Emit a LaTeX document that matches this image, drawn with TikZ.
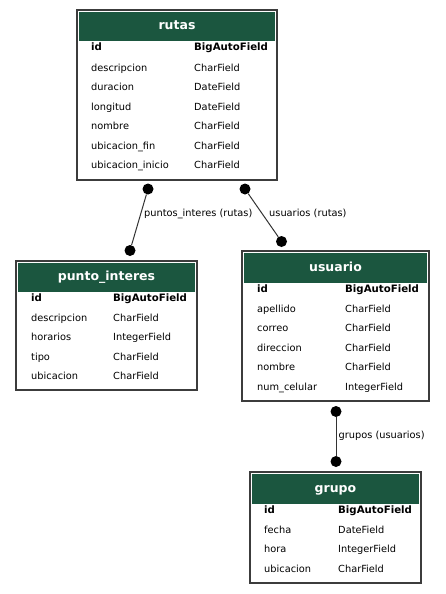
\documentclass[tikz,border=0pt]{standalone}
\usepackage{fontspec}
\setmainfont{DejaVu Sans}
\usetikzlibrary{positioning}

\definecolor{hdrgreen}{HTML}{1B563F}
\definecolor{boxgray}{HTML}{3C3C3C}

\tikzset{
  tbl/.style={draw=boxgray, line width=1.2pt, fill=white},
  hdr/.style={fill=hdrgreen, draw=none},
  ttl/.style={text=white, font=\fontsize{12.5}{14}\selectfont\bfseries, anchor=center, inner sep=0pt, text height=9pt, text depth=2.5pt},
  fname/.style={anchor=west, font=\fontsize{9.8}{11}\selectfont, inner sep=0pt, text height=7.2pt, text depth=2.2pt},
  ftype/.style={fname},
  fkey/.style={anchor=west, font=\fontsize{10.2}{11}\selectfont\bfseries, inner sep=0pt, text height=7.2pt, text depth=2.2pt},
  dot/.style={circle, fill=black, inner sep=0pt, minimum size=11pt},
  rel/.style={draw=black!80, line width=1pt},
  rlabel/.style={fname}
}

\begin{document}
\begin{tikzpicture}[x=1pt, y=-1pt]
\useasboundingbox (0,0) rectangle (445,594);

% rutas
\draw[tbl] (77,10) rectangle (277,180);
\fill[hdr] (79,12) rectangle (275,41);
\node[ttl] (rutas) at (177,26.5) {rutas};
\node[fkey] (rutas-id) at (91,48) {id};
\node[fkey] (rutas-id-t) at (194,48) {BigAutoField};
\node[fname] (rutas-descripcion) at (91,68.5) {descripcion};
\node[ftype] (rutas-descripcion-t) at (194,68.5) {CharField};
\node[fname] (rutas-duracion) at (91,88) {duracion};
\node[ftype] (rutas-duracion-t) at (194,88) {DateField};
\node[fname] (rutas-longitud) at (91,107.5) {longitud};
\node[ftype] (rutas-longitud-t) at (194,107.5) {DateField};
\node[fname] (rutas-nombre) at (91,127) {nombre};
\node[ftype] (rutas-nombre-t) at (194,127) {CharField};
\node[fname] (rutas-fin) at (91,146.5) {ubicacion\_fin};
\node[ftype] (rutas-fin-t) at (194,146.5) {CharField};
\node[fname] (rutas-inicio) at (91,166) {ubicacion\_inicio};
\node[ftype] (rutas-inicio-t) at (194,166) {CharField};

% punto_interes
\draw[tbl] (16,261) rectangle (197,390);
\fill[hdr] (18,263) rectangle (195,292);
\node[ttl] (pinteres) at (106.5,277.5) {punto\_interes};
\node[fkey] (pinteres-id) at (31,299) {id};
\node[fkey] (pinteres-id-t) at (113,299) {BigAutoField};
\node[fname] (pinteres-descripcion) at (31,318.5) {descripcion};
\node[ftype] (pinteres-descripcion-t) at (113,318.5) {CharField};
\node[fname] (pinteres-horarios) at (31,338) {horarios};
\node[ftype] (pinteres-horarios-t) at (113,338) {IntegerField};
\node[fname] (pinteres-tipo) at (31,357.5) {tipo};
\node[ftype] (pinteres-tipo-t) at (113,357.5) {CharField};
\node[fname] (pinteres-ubicacion) at (31,377) {ubicacion};
\node[ftype] (pinteres-ubicacion-t) at (113,377) {CharField};

% usuario
\draw[tbl] (242,251) rectangle (429,401);
\fill[hdr] (244,253) rectangle (427,283);
\node[ttl] (usuario) at (335.5,268) {usuario};
\node[fkey] (usuario-id) at (257,290) {id};
\node[fkey] (usuario-id-t) at (345,290) {BigAutoField};
\node[fname] (usuario-apellido) at (257,309.5) {apellido};
\node[ftype] (usuario-apellido-t) at (345,309.5) {CharField};
\node[fname] (usuario-correo) at (257,329) {correo};
\node[ftype] (usuario-correo-t) at (345,329) {CharField};
\node[fname] (usuario-direccion) at (257,348.5) {direccion};
\node[ftype] (usuario-direccion-t) at (345,348.5) {CharField};
\node[fname] (usuario-nombre) at (257,368) {nombre};
\node[ftype] (usuario-nombre-t) at (345,368) {CharField};
\node[fname] (usuario-celular) at (257,387.5) {num\_celular};
\node[ftype] (usuario-celular-t) at (345,387.5) {IntegerField};

% grupo
\draw[tbl] (250,472) rectangle (421,583);
\fill[hdr] (252,474) rectangle (419,504);
\node[ttl] (grupo) at (335.5,489) {grupo};
\node[fkey] (grupo-id) at (264,511) {id};
\node[fkey] (grupo-id-t) at (338,511) {BigAutoField};
\node[fname] (grupo-fecha) at (264,530.5) {fecha};
\node[ftype] (grupo-fecha-t) at (338,530.5) {DateField};
\node[fname] (grupo-hora) at (264,550) {hora};
\node[ftype] (grupo-hora-t) at (338,550) {IntegerField};
\node[fname] (grupo-ubicacion) at (264,569.5) {ubicacion};
\node[ftype] (grupo-ubicacion-t) at (338,569.5) {CharField};

% relaciones
\node[dot] (rutas-a) at (148,189) {};
\node[dot] (pinteres-a) at (130,250.5) {};
\draw[rel] (rutas-a) -- (pinteres-a);
\node[rlabel] (lbl-pinteres) at (144,214) {puntos\_interes (rutas)};

\node[dot] (rutas-b) at (245,189) {};
\node[dot] (usuario-a) at (281.5,241.5) {};
\draw[rel] (rutas-b) -- (usuario-a);
\node[rlabel] (lbl-usuario) at (269,214) {usuarios (rutas)};

\node[dot] (usuario-b) at (336,411.5) {};
\node[dot] (grupo-a) at (336,461.5) {};
\draw[rel] (usuario-b) -- (grupo-a);
\node[rlabel] (lbl-grupo) at (338.5,436) {grupos (usuarios)};

\end{tikzpicture}
\end{document}
